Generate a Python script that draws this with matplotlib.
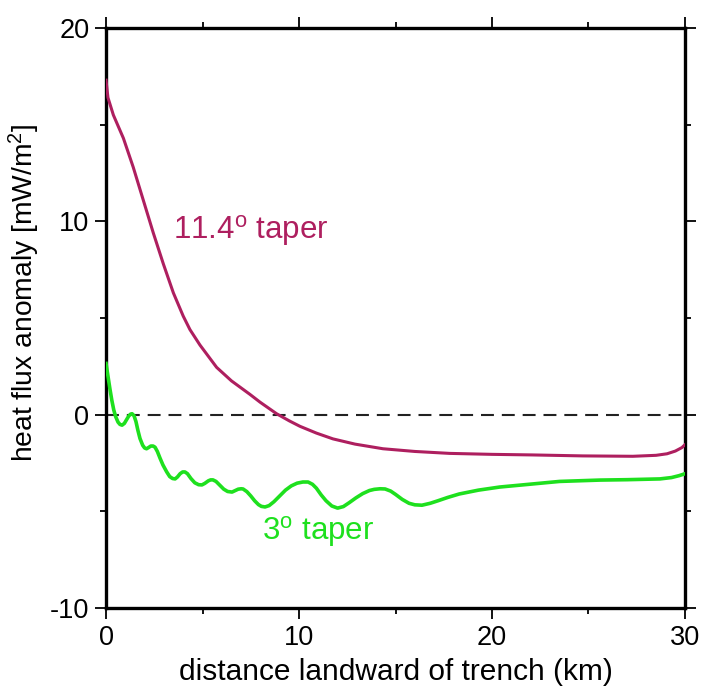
import matplotlib
matplotlib.use("Agg")
import matplotlib.pyplot as plt
from matplotlib.ticker import MultipleLocator

plt.rcParams['font.family'] = ['Liberation Sans', 'DejaVu Sans']
plt.rcParams['mathtext.fontset'] = 'custom'
plt.rcParams['mathtext.rm'] = 'Liberation Sans'
plt.rcParams['mathtext.it'] = 'Liberation Sans'
plt.rcParams['axes.unicode_minus'] = False

# 11.4 degree taper
x_steep = [0.0, 0.1, 0.38, 0.9, 1.41, 1.93, 2.45, 2.97, 3.49, 4.0, 4.35, 4.87, 5.73,
           6.5, 7.46, 7.98, 8.84, 9.5, 10.05, 10.9, 11.76, 12.9, 14.35, 16.0, 17.8,
           20.0, 22.1, 24.7, 27.3, 28.5, 29.07, 29.5, 29.84, 30.0]
y_steep = [17.3, 16.4, 15.5, 14.3, 12.8, 11.1, 9.4, 7.8, 6.3, 5.1, 4.4, 3.6, 2.45,
           1.75, 1.05, 0.65, 0.05, -0.32, -0.6, -0.95, -1.25, -1.52, -1.76, -1.9, -2.0,
           -2.05, -2.08, -2.13, -2.15, -2.1, -2.02, -1.88, -1.7, -1.55]

# 3 degree taper
x_flat = [0.0, 0.1, 0.2, 0.3, 0.4, 0.5, 0.62, 0.72, 0.83, 0.95, 1.05, 1.17, 1.27,
          1.35, 1.45, 1.55, 1.65, 1.76, 1.9, 2.0, 2.1, 2.2, 2.32, 2.44, 2.54, 2.66,
          2.8, 2.95, 3.14, 3.3, 3.45, 3.58, 3.7, 3.84, 3.97, 4.09, 4.22, 4.4, 4.6,
          4.8, 4.97, 5.12, 5.3, 5.42, 5.54, 5.7, 5.9, 6.1, 6.3, 6.53, 6.7, 6.85,
          7.0, 7.1, 7.3, 7.5, 7.7, 7.9, 8.05, 8.24, 8.45, 8.7, 9.0, 9.3, 9.6, 9.9,
          10.2, 10.47, 10.7, 10.9, 11.15, 11.4, 11.7, 12.0, 12.3, 12.6, 12.95,
          13.3, 13.65, 13.9, 14.2, 14.46, 14.75, 15.0, 15.35, 15.7, 16.0, 16.37,
          16.8, 17.2, 17.7, 18.3, 19.3, 20.4, 21.9, 23.5, 25.6, 27.0, 28.7, 29.3,
          29.7, 30.0]
y_flat = [2.65, 2.0, 1.35, 0.75, 0.25, -0.1, -0.38, -0.5, -0.54, -0.45, -0.28, -0.08,
          0.03, 0.05, -0.05, -0.35, -0.8, -1.23, -1.58, -1.72, -1.76, -1.7, -1.62,
          -1.62, -1.68, -1.9, -2.25, -2.6, -2.95, -3.2, -3.3, -3.32, -3.22, -3.05,
          -2.96, -2.96, -3.05, -3.3, -3.52, -3.62, -3.63, -3.55, -3.42, -3.37, -3.37,
          -3.45, -3.65, -3.85, -3.97, -4.0, -3.92, -3.85, -3.83, -3.84, -3.98, -4.2,
          -4.45, -4.65, -4.74, -4.77, -4.7, -4.5, -4.2, -3.9, -3.68, -3.54, -3.48,
          -3.48, -3.6, -3.8, -4.15, -4.45, -4.72, -4.83, -4.75, -4.55, -4.3, -4.08,
          -3.92, -3.86, -3.83, -3.84, -3.95, -4.12, -4.38, -4.58, -4.66, -4.68,
          -4.58, -4.45, -4.28, -4.1, -3.9, -3.74, -3.6, -3.45, -3.38, -3.36, -3.32,
          -3.25, -3.15, -3.05]

red = '#AE1F5F'
green = '#1EE01E'
fs_tick = 19.5
fs_note = 22.5

fig = plt.figure(figsize=(7.04, 6.91), dpi=100)
ax = fig.add_axes([0.1506, 0.120, 0.8224, 0.8395])

ax.axhline(0, color='#222222', lw=1.5, dashes=(6.2, 3.8), zorder=1)
ax.plot(x_steep, y_steep, color=red, lw=2.2, solid_joinstyle='round', zorder=3)
ax.plot(x_flat, y_flat, color=green, lw=2.6, solid_joinstyle='round', zorder=3)

ax.text(3.45, 9.08, r'11.4$^{\rm o}$ taper', color=red, fontsize=fs_note,
        ha='left', va='baseline')
ax.text(8.1, -6.49, r'3$^{\rm o}$ taper', color=green, fontsize=fs_note,
        ha='left', va='baseline')

ax.set_xlim(0, 30)
ax.set_ylim(-10, 20)
ax.xaxis.set_major_locator(MultipleLocator(10))
ax.xaxis.set_minor_locator(MultipleLocator(5))
ax.yaxis.set_major_locator(MultipleLocator(10))
ax.yaxis.set_minor_locator(MultipleLocator(5))
ax.tick_params(which='both', direction='out', top=True, right=True, width=1.3, colors='black')
ax.tick_params(which='major', length=8, labelsize=fs_tick, pad=4)
ax.tick_params(which='minor', length=4)
for s in ax.spines.values():
    s.set_linewidth(2.4)

ax.set_xlabel('distance landward of trench (km)', fontsize=21.5, labelpad=5)
ax.set_ylabel(r'heat flux anomaly [mW/m$^2$]', fontsize=20.3)
ax.yaxis.set_label_coords(-0.11, 0.543)

fig.savefig('out.png', dpi=100)
